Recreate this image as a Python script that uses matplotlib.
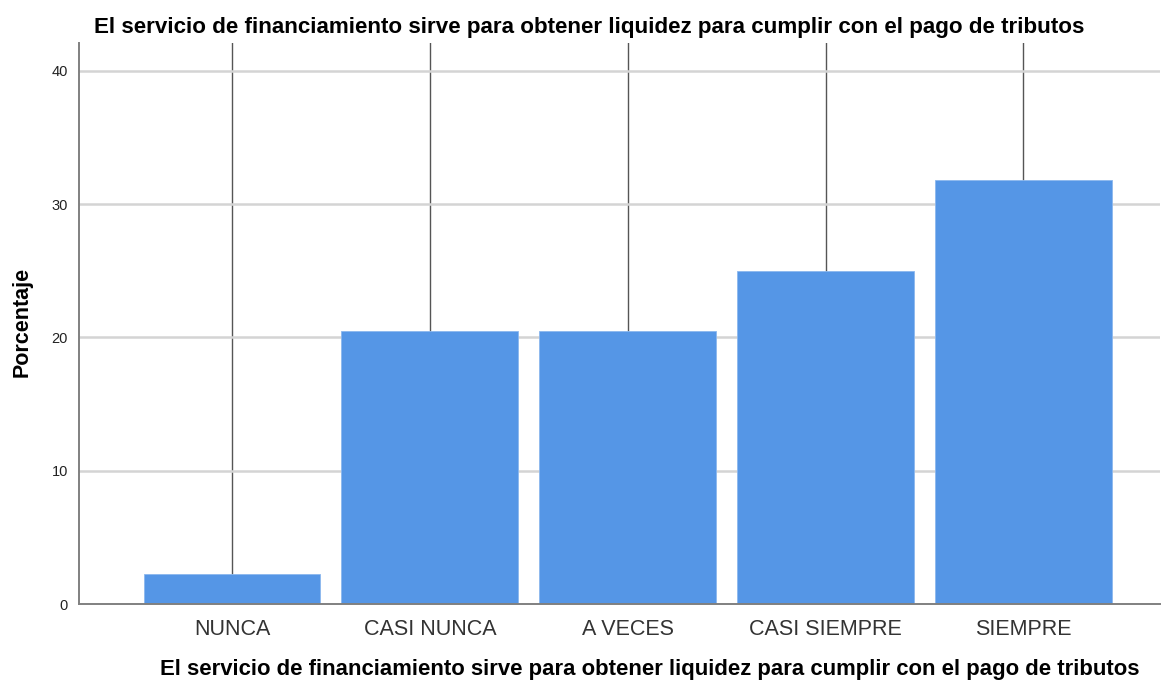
import matplotlib
matplotlib.use("Agg")
import matplotlib.pyplot as plt
import numpy as np

categories = ["NUNCA", "CASI NUNCA", "A VECES", "CASI SIEMPRE", "SIEMPRE"]
percent = [2.27, 20.45, 20.45, 25.0, 31.82]
yticks = [0, 10, 20, 30, 40]
title = "El servicio de financiamiento sirve para obtener liquidez para cumplir con el pago de tributos"

plt.rcParams['font.family'] = ['Liberation Sans', 'DejaVu Sans']

fig = plt.figure(figsize=(11.63, 6.83), dpi=100)
ax = fig.add_axes([79/1163, 79/683, (1160-79)/1163, (604-43)/683])

x = np.arange(len(categories))
ax.set_xlim(-0.773, 4.69)
ax.set_ylim(0, 42.1)

for xi in x:
    ax.axvline(xi, color='#555555', lw=1.0, zorder=1)
for yt in yticks[1:]:
    ax.axhline(yt, color='#d4d4d4', lw=1.8, zorder=1)

ax.bar(x, percent, width=0.894, color='#5596E6', edgecolor='#8cb8ee', linewidth=0.6, zorder=2)

ax.set_xticks(x)
ax.set_xticklabels(categories, fontsize=15.5, color='#333333')
ax.set_yticks(yticks)
ax.set_yticklabels([str(v) for v in yticks], fontsize=10.5, color='#222222')
ax.tick_params(axis='both', length=0)
ax.tick_params(axis='x', pad=11)
ax.tick_params(axis='y', pad=8)

for s in ['top', 'right']:
    ax.spines[s].set_visible(False)
for s in ['left', 'bottom']:
    ax.spines[s].set_color('#808080')
    ax.spines[s].set_linewidth(1.4)

fig.text(22/1163, 1 - 322/683, "Porcentaje", rotation=90, ha='center', va='center',
         fontsize=15.5, fontweight='bold')
fig.text(589/1163, 1 - 27/683, title, ha='center', va='center', fontsize=16.1, fontweight='bold')
fig.text(650/1163, 1 - 669/683, title, ha='center', va='center', fontsize=15.9, fontweight='bold')

fig.savefig("out.png", dpi=100)
